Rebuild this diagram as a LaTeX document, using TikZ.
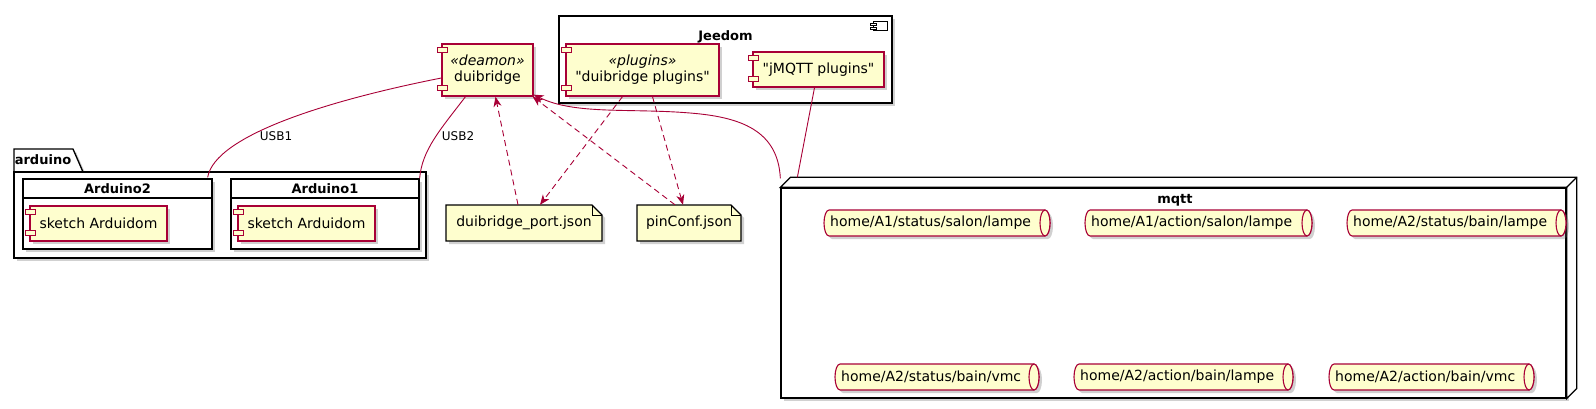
\documentclass[tikz,border=0pt]{standalone}
\usepackage{fontspec}
\setmainfont{DejaVu Sans}
\usetikzlibrary{arrows.meta,calc,shadows}
\definecolor{pfill}{HTML}{FEFECE}
\definecolor{pcol}{HTML}{A80036}
\tikzset{
  every node/.style={font=\fontsize{14}{16}\selectfont, inner sep=0pt},
  shd/.style={drop shadow={shadow xshift=3pt, shadow yshift=-3pt, opacity=0.3, fill=black!60}},
  compbox/.style={draw=pcol, fill=pfill, line width=1.3pt, shd},
  portbox/.style={draw=pcol, fill=pfill, line width=1.1pt},
  frame/.style={draw=black, fill=white, line width=1.3pt, shd},
  ttl/.style={font=\bfseries\fontsize{13}{15}\selectfont},
  notebox/.style={draw=black, fill=pfill, line width=1.1pt, shd},
  qshape/.style={draw=pcol, fill=pfill, line width=1.1pt, shd},
  qend/.style={draw=pcol, fill=pfill, line width=1.1pt},
  edge/.style={draw=pcol, line width=0.9pt},
  tip/.style={-{Stealth[length=10pt,width=8pt,inset=3pt]}},
  dep/.style={edge, dash pattern=on 6pt off 4pt, tip},
  lbl/.style={font=\fontsize{12}{14}\selectfont}
}
\newcommand\compports[1]{%
  \draw[portbox] ($(#1.north west)+(-4,4)$) rectangle ++(10,5);
  \draw[portbox] ($(#1.south west)+(-4,-11)$) rectangle ++(10,5);}
\newcommand\mqueue[5]{%
  \path[qshape] ({#2+5},{#4-13}) arc[start angle=270,end angle=90,x radius=5,y radius=13]
     -- ({#3-5},{#4+13}) arc[start angle=90,end angle=-90,x radius=5,y radius=13] -- cycle;
  \draw[qend] ({#3-5},#4) ellipse[x radius=5, y radius=13];
  \node[anchor=west] (#1) at ({#2+6},#4) {#5};}
\newcommand\notepath[4]{%
  \path[notebox] (#1,#2) -- ({#3-10},#2) -- (#3,{#2+10}) -- (#3,#4) -- (#1,#4) -- cycle;
  \draw[black, line width=1pt] ({#3-10},#2) -- ({#3-10},{#2+10}) -- (#3,{#2+10});}
\begin{document}
\begin{tikzpicture}[x=1pt,y=-1pt]
\useasboundingbox (0,0) rectangle (1596,409);
% Jeedom frame
\node[frame, minimum width=333pt, minimum height=87pt] (jeedom) at (725.5,59.5) {};
\node[ttl] (jeedomT) at (725.5,37) {Jeedom};
\draw[black, line width=1pt, fill=white] (873,22) rectangle (887,31);
\draw[black, line width=0.8pt, fill=white] (870,23.5) rectangle (876,25.5);
\draw[black, line width=0.8pt, fill=white] (870,27.5) rectangle (876,29.5);
% components
\node[compbox, minimum width=91pt, minimum height=52pt, align=center] (duib) at (487.5,70) {{\itshape «deamon»}\\duibridge};
\compports{duib}
\node[compbox, minimum width=153pt, minimum height=52pt, align=center] (dplug) at (642.5,70) {{\itshape «plugins»}\\\textquotedbl duibridge plugins\textquotedbl};
\compports{dplug}
\node[compbox, minimum width=131pt, minimum height=35pt] (jmqtt) at (818.5,69.5) {\textquotedbl jMQTT plugins\textquotedbl};
\compports{jmqtt}
% arduino package
\path[frame] (14,172) -- (14,149) -- (73,149) -- (83,172) -- cycle;
\node[frame, minimum width=412pt, minimum height=86pt] (pkg) at (220,215) {};
\node[ttl] (pkgT) at (43,159.5) {arduino};
\node[frame, minimum width=189pt, minimum height=70pt] (ard2) at (117.5,214) {};
\draw[black, line width=1.3pt] (ard2.west |- 0,198) -- (ard2.east |- 0,198);
\node[ttl] (ard2T) at (117.5,188.5) {Arduino2};
\node[frame, minimum width=188pt, minimum height=70pt] (ard1) at (325,214) {};
\draw[black, line width=1.3pt] (ard1.west |- 0,198) -- (ard1.east |- 0,198);
\node[ttl] (ard1T) at (325,188.5) {Arduino1};
\node[compbox, minimum width=137pt, minimum height=35pt] (sk2) at (98.5,223.5) {sketch Arduidom};
\compports{sk2}
\node[compbox, minimum width=137pt, minimum height=35pt] (sk1) at (306.5,223.5) {sketch Arduidom};
\compports{sk1}
% notes
\notepath{446}{205}{602}{241}
\node[minimum width=156pt, minimum height=36pt] (dport) at (524,223) {duibridge\_port.json};
\notepath{637}{205}{741}{241}
\node[minimum width=104pt, minimum height=36pt] (pconf) at (689,223) {pinConf.json};
% mqtt node
\node[frame, minimum width=785pt, minimum height=210pt] (mqtt) at (1173.5,293) {};
\path[draw=black, fill=white, line width=1.3pt] (mqtt.north west) -- ++(10,-10) -- ($(mqtt.north east)+(10,-10)$) -- ($(mqtt.south east)+(10,-10)$) -- (mqtt.south east) -- (mqtt.north east) -- cycle;
\draw[black, line width=1.3pt] (mqtt.north east) -- ++(10,-10);
\node[ttl] (mqttT) at (1175,200) {mqtt};
\mqueue{q1}{824}{1050}{223}{home/A1/status/salon/lampe}
\mqueue{q2}{1085}{1312}{223}{home/A1/action/salon/lampe}
\mqueue{q3}{1347}{1566}{223}{home/A2/status/bain/lampe}
\mqueue{q4}{835}{1039}{377}{home/A2/status/bain/vmc}
\mqueue{q5}{1074}{1293}{377}{home/A2/action/bain/lampe}
\mqueue{q6}{1329}{1534}{377}{home/A2/action/bain/vmc}
% connectors
\draw[edge] ($(duib.west)+(0,8)$) .. controls (330,100) and (215,135) .. ($(ard2.north east)+(-5,-1)$)
   node[lbl, at={(276,136)}] (usb1) {USB1};
\draw[edge] ($(duib.south)+(-22,0)$) .. controls (440,130) and (422,150) .. (ard1.north east)
   node[lbl, at={(458,136)}] (usb2) {USB2};
\draw[dep] ($(dport.north)+(-6,0)$) -- ($(duib.south)+(8,0)$);
\draw[dep] ($(dplug.south)+(-20,0)$) -- ($(dport.north)+(16,0)$);
\draw[dep] ($(dplug.south)+(10,0)$) -- ($(pconf.north)+(-6,0)$);
\draw[dep] ($(pconf.north)+(-14,0)$) -- ($(duib.south east)+(-1,0)$);
\draw[edge, tip] ($(mqtt.north west)+(0,-9)$) .. controls (778,130) and (740,117) .. (690,113)
   .. controls (630,108) and (575,115) .. ($(duib.south east)+(0,-2)$);
\draw[edge] ($(jmqtt.south)+(-4,0)$) -- ($(mqtt.north west)+(17,-10)$);
\end{tikzpicture}
\end{document}
